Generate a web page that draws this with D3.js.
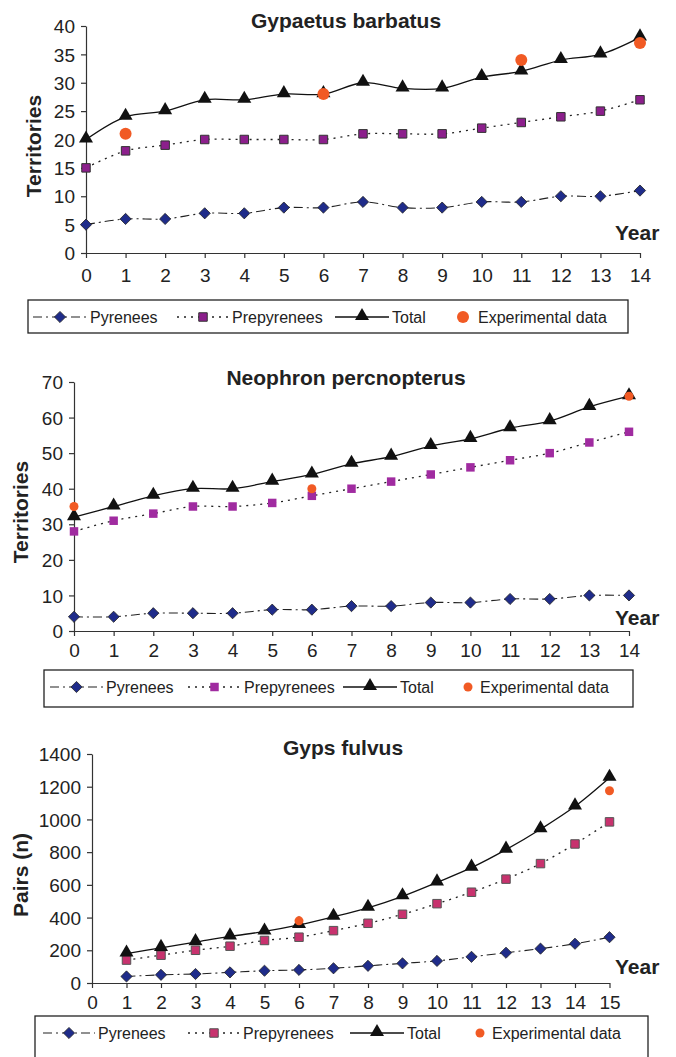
<!DOCTYPE html>
<html>
<head>
<meta charset="utf-8">
<script src="https://cdn.jsdelivr.net/npm/d3@7"></script>
<style>
  body { margin: 0; background: #fff; }
  svg { display: block; font-family: "Liberation Sans", Arial, sans-serif; }
  .axis path, .axis line { stroke: #333; stroke-width: 1.2; }
  .axis text { fill: #222; font-size: 19px; font-family: "Liberation Sans", Arial, sans-serif; }
</style>
</head>
<body>
<svg id="chart" width="676" height="1057"></svg>
<script>

////////////////////////// DATA //////////////////////////

const seriesNames = ['Pyrenees', 'Prepyrenees', 'Total', 'Experimental data']

// Gypaetus barbatus, years 0..14
const gbYears = d3.range(0, 15)
const gbPyrenees = [5, 6, 6, 7, 7, 8, 8, 9, 8, 8, 9, 9, 10, 10, 11]
const gbPrepyrenees = [15, 18, 19, 20, 20, 20, 20, 21, 21, 21, 22, 23, 24, 25, 27]
const gbTotal = [20, 24, 25, 27, 27, 28, 28, 30, 29, 29, 31, 32, 34, 35, 38]
const gbExperimental = [[1, 21], [6, 28], [11, 34], [14, 37]]

// Neophron percnopterus, years 0..14
const npYears = d3.range(0, 15)
const npPyrenees = [4, 4, 5, 5, 5, 6, 6, 7, 7, 8, 8, 9, 9, 10, 10]
const npPrepyrenees = [28, 31, 33, 35, 35, 36, 38, 40, 42, 44, 46, 48, 50, 53, 56]
const npTotal = [32, 35, 38, 40, 40, 42, 44, 47, 49, 52, 54, 57, 59, 63, 66]
const npExperimental = [[0, 35], [6, 40], [14, 66]]

// Gyps fulvus, years 1..15
const gfYears = d3.range(1, 16)
const gfPyrenees = [40, 50, 55, 65, 75, 80, 90, 105, 120, 135, 160, 185, 210, 240, 280]
const gfPrepyrenees = [140, 170, 200, 225, 260, 280, 320, 365, 420, 485, 555, 635, 730, 850, 985]
const gfTotal = [180, 215, 250, 285, 315, 355, 405, 460, 530, 615, 705, 815, 940, 1080, 1255]
const gfExperimental = [[6, 380], [15, 1175]]


////////////////////////// SETUP //////////////////////////

const svg = d3.select('#chart')

const panels = [
  {
    title: 'Gypaetus barbatus', yLabel: 'Territories',
    years: gbYears, pyr: gbPyrenees, pre: gbPrepyrenees, tot: gbTotal, exp: gbExperimental,
    xDomain: [0, 14], yDomain: [0, 40], yStep: 5,
    left: 86, right: 640, top: 26, bottom: 253, xPad: 11,
    titlePos: [346, 28], yLabelPos: [41, 146], yearPos: [615, 240],
    squareFill: '#8c1f8c', squareStroke: '#333', expR: 6,
    legend: { box: [28, 300, 600, 33], line: [33, 177, 335], text: [90, 232, 392], dot: 463, dotText: 478 }
  },
  {
    title: 'Neophron percnopterus', yLabel: 'Territories',
    years: npYears, pyr: npPyrenees, pre: npPrepyrenees, tot: npTotal, exp: npExperimental,
    xDomain: [0, 14], yDomain: [0, 70], yStep: 10,
    left: 74, right: 629, top: 382, bottom: 631, xPad: 8,
    titlePos: [346, 385], yLabelPos: [28, 512], yearPos: [615, 625],
    squareFill: '#a02ba0', squareStroke: 'none', expR: 4.5,
    legend: { box: [44, 670, 589, 37], line: [50, 188, 343], text: [106, 244, 400], dot: 468, dotText: 480 }
  },
  {
    title: 'Gyps fulvus', yLabel: 'Pairs (n)',
    years: gfYears, pyr: gfPyrenees, pre: gfPrepyrenees, tot: gfTotal, exp: gfExperimental,
    xDomain: [0, 15], yDomain: [0, 1400], yStep: 200,
    left: 92, right: 609.5, top: 754, bottom: 983, xPad: 8,
    titlePos: [343, 755], yLabelPos: [28, 875], yearPos: [615, 974],
    squareFill: '#c8326e', squareStroke: '#555', expR: 4.5,
    legend: { box: [35, 1016, 613, 60], line: [43, 188, 350], text: [98, 243, 407], dot: 480, dotText: 492 }
  }
]

const diamond = d3.symbol().type(d3.symbolDiamond2).size(80)
const square = d3.symbol().type(d3.symbolSquare).size(72)
const triangle = d3.symbol().type(d3.symbolTriangle).size(85)

const navy = '#1f2c8a'
const orange = '#f15a24'

const styles = {
  pyr: { dash: '9,4,2,4', width: 1.1, color: '#222' },
  pre: { dash: '2,5', width: 1.3, color: '#222' },
  tot: { dash: null, width: 1.3, color: '#111' }
}


////////////////////////// DRAW //////////////////////////

const drawPanel = (p) => {
  const g = svg.append('g')
  const xScale = d3.scaleLinear().domain(p.xDomain).range([p.left, p.right])
  const yScale = d3.scaleLinear().domain(p.yDomain).range([p.bottom, p.top])

  // axes
  const xAxis = d3.axisBottom(xScale)
    .tickValues(d3.range(p.xDomain[0], p.xDomain[1] + 1))
    .tickFormat(d3.format('d'))
    .tickSize(5).tickPadding(p.xPad).tickSizeOuter(0)
  const yAxis = d3.axisLeft(yScale)
    .tickValues(d3.range(p.yDomain[0], p.yDomain[1] + 1, p.yStep))
    .tickFormat(d3.format('d'))
    .tickSize(5).tickPadding(6).tickSizeOuter(0)

  g.append('g').attr('class', 'axis')
    .attr('transform', `translate(0,${p.bottom})`)
    .call(xAxis)
  g.append('g').attr('class', 'axis')
    .attr('transform', `translate(${p.left},0)`)
    .call(yAxis)
    .selectAll('text').attr('dy', '0.35em')

  // labels
  g.append('text')
    .attr('x', p.titlePos[0]).attr('y', p.titlePos[1])
    .attr('text-anchor', 'middle')
    .style('font-weight', 'bold').style('font-size', '21px').style('fill', '#222')
    .text(p.title)
  g.append('text')
    .attr('transform', `translate(${p.yLabelPos[0]},${p.yLabelPos[1]}) rotate(-90)`)
    .attr('text-anchor', 'middle')
    .style('font-weight', 'bold').style('font-size', '21px').style('fill', '#222')
    .text(p.yLabel)
  g.append('text')
    .attr('x', p.yearPos[0]).attr('y', p.yearPos[1])
    .style('font-weight', 'bold').style('font-size', '21px').style('fill', '#222')
    .text('Year')

  // lines
  const line = d3.line()
    .x((d, i) => xScale(p.years[i]))
    .y((d) => yScale(d))
    .curve(d3.curveCatmullRom.alpha(0.5))

  ;['pyr', 'pre', 'tot'].forEach((key) => {
    g.append('path')
      .datum(p[key])
      .attr('d', line)
      .attr('fill', 'none')
      .attr('stroke', styles[key].color)
      .attr('stroke-width', styles[key].width)
      .attr('stroke-dasharray', styles[key].dash)
  })

  // markers
  g.selectAll('.pyr-mark').data(p.pyr).enter()
    .append('path')
    .attr('transform', (d, i) => `translate(${xScale(p.years[i])},${yScale(d)})`)
    .attr('d', diamond)
    .attr('fill', navy).attr('stroke', '#222').attr('stroke-width', 0.8)

  g.selectAll('.pre-mark').data(p.pre).enter()
    .append('path')
    .attr('transform', (d, i) => `translate(${xScale(p.years[i])},${yScale(d)})`)
    .attr('d', square)
    .attr('fill', p.squareFill).attr('stroke', p.squareStroke).attr('stroke-width', 1)

  g.selectAll('.tot-mark').data(p.tot).enter()
    .append('path')
    .attr('transform', (d, i) => `translate(${xScale(p.years[i])},${yScale(d) - 1})`)
    .attr('d', triangle)
    .attr('fill', '#111')

  g.selectAll('.exp-mark').data(p.exp).enter()
    .append('circle')
    .attr('cx', (d) => xScale(d[0]))
    .attr('cy', (d) => yScale(d[1]))
    .attr('r', p.expR)
    .attr('fill', orange)

  // legend
  const lg = p.legend
  const ly = lg.box[1] + 17
  g.append('rect')
    .attr('x', lg.box[0]).attr('y', lg.box[1])
    .attr('width', lg.box[2]).attr('height', lg.box[3])
    .attr('fill', 'none').attr('stroke', '#222').attr('stroke-width', 1.3)

  const legendKeys = ['pyr', 'pre', 'tot']
  legendKeys.forEach((key, i) => {
    const x0 = lg.line[i]
    const x1 = lg.text[i] - 3
    g.append('line')
      .attr('x1', x0).attr('x2', x1).attr('y1', ly).attr('y2', ly)
      .attr('stroke', styles[key].color)
      .attr('stroke-width', styles[key].width)
      .attr('stroke-dasharray', styles[key].dash)
    const mx = (x0 + x1) / 2
    const mark = g.append('path').attr('transform', `translate(${mx},${key === 'tot' ? ly - 1 : ly})`)
    if (key === 'pyr') mark.attr('d', diamond).attr('fill', navy).attr('stroke', '#222').attr('stroke-width', 0.8)
    if (key === 'pre') mark.attr('d', square).attr('fill', p.squareFill).attr('stroke', p.squareStroke)
    if (key === 'tot') mark.attr('d', triangle).attr('fill', '#111')
    g.append('text')
      .attr('x', lg.text[i]).attr('y', ly).attr('dy', '0.35em')
      .style('font-size', '16px').style('fill', '#222')
      .text(seriesNames[i])
  })
  g.append('circle')
    .attr('cx', lg.dot).attr('cy', ly).attr('r', p.expR).attr('fill', orange)
  g.append('text')
    .attr('x', lg.dotText).attr('y', ly).attr('dy', '0.35em')
    .style('font-size', '16px').style('fill', '#222')
    .text(seriesNames[3])
}

panels.forEach(drawPanel)

</script>
</body>
</html>
